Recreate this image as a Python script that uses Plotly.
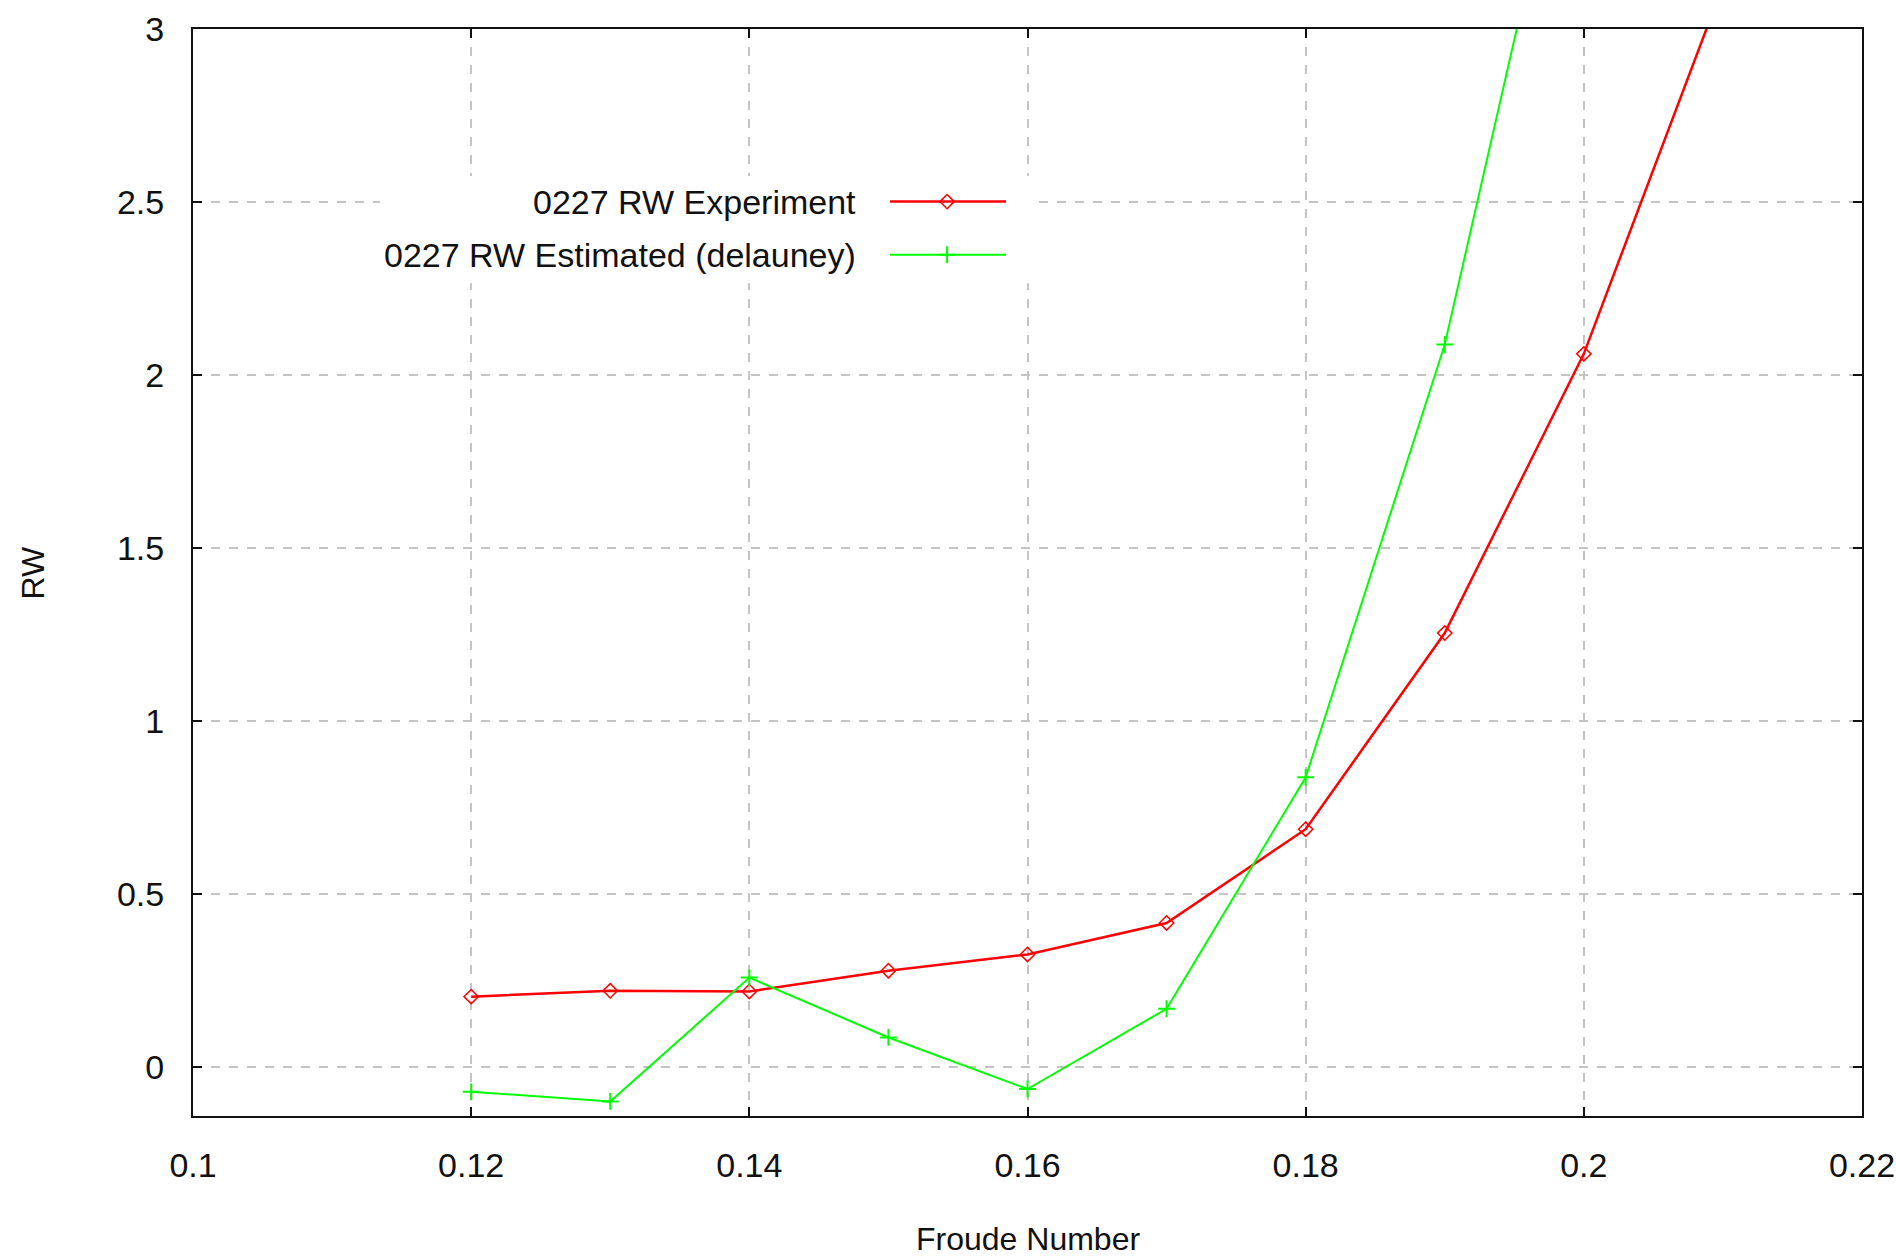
import plotly.graph_objects as go

# Froude number vs wave resistance
froude_exp = [0.12, 0.13, 0.14, 0.15, 0.16, 0.17, 0.18, 0.19, 0.20, 0.21]
rw_exp = [0.203, 0.220, 0.218, 0.278, 0.325, 0.416, 0.687, 1.254, 2.061, 3.126]

froude_est = [0.12, 0.13, 0.14, 0.15, 0.16, 0.17, 0.18, 0.19, 0.20]
rw_est = [-0.072, -0.100, 0.258, 0.085, -0.064, 0.168, 0.837, 2.088, 3.85]

series_names = ["0227 RW Experiment", "0227 RW Estimated (delauney)"]
series_colors = ["#ff0000", "#00ff00"]

X_RANGE = [0.1, 0.2200001]
Y_RANGE = [-0.142, 3.0]

FONT = "Liberation Sans, Arial, sans-serif"
GRID = "#c4c4c4"
INK = "#111111"


def fx(frac):
    # fraction of the plot width -> x value
    return X_RANGE[0] + frac * (X_RANGE[1] - X_RANGE[0])


def fy(frac):
    return Y_RANGE[0] + frac * (Y_RANGE[1] - Y_RANGE[0])


fig = go.Figure()

fig.add_trace(go.Scatter(
    x=froude_exp, y=rw_exp, mode="lines+markers", name=series_names[0],
    line=dict(color=series_colors[0], width=2.5),
    marker=dict(symbol="diamond-open", size=11, color=series_colors[0],
                line=dict(width=1.5, color=series_colors[0])),
    showlegend=False,
))
fig.add_trace(go.Scatter(
    x=froude_est, y=rw_est, mode="lines+markers", name=series_names[1],
    line=dict(color=series_colors[1], width=2),
    marker=dict(symbol="cross-thin", size=12,
                line=dict(width=2, color=series_colors[1])),
    showlegend=False,
))

# gnuplot style key: text on the left, sample on the right
key_rows = [0.8412, 0.7924]
key_line = [0.4176, 0.4871]
key_mark = 0.4518
key_symbols = [("diamond-open", 11, 1.5), ("cross-thin", 12, 2)]
for i, name in enumerate(series_names):
    fig.add_trace(go.Scatter(
        x=[fx(k) for k in key_line], y=[fy(key_rows[i])] * 2, mode="lines",
        line=dict(color=series_colors[i], width=2.5 if i == 0 else 2),
        showlegend=False, hoverinfo="skip",
    ))
    sym, sz, lw = key_symbols[i]
    fig.add_trace(go.Scatter(
        x=[fx(key_mark)], y=[fy(key_rows[i])], mode="markers",
        marker=dict(symbol=sym, size=sz, color=series_colors[i],
                    line=dict(width=lw, color=series_colors[i])),
        showlegend=False, hoverinfo="skip",
    ))
    fig.add_annotation(
        text=name, xref="x domain", yref="y domain", x=0.3984, y=key_rows[i],
        xanchor="right", yanchor="middle", showarrow=False,
        font=dict(family=FONT, size=34, color=INK),
    )

# opaque key box hides the grid behind it
fig.add_shape(type="rect", xref="x", yref="y",
              x0=fx(0.112), x1=fx(0.5015), y0=fy(0.7661), y1=fy(0.8647),
              fillcolor="white", line=dict(width=0), layer="between")

axis_common = dict(
    showline=True, linecolor=INK, linewidth=2, mirror="ticks",
    ticks="inside", ticklen=9, tickwidth=2, tickcolor=INK,
    showgrid=True, gridcolor=GRID, gridwidth=2, griddash="9px,9px",
    zeroline=False, automargin=False,
    tickfont=dict(family=FONT, size=34, color=INK),
)

fig.update_layout(
    width=1896, height=1260,
    margin=dict(l=193, r=34, t=29, b=144),
    plot_bgcolor="white", paper_bgcolor="white",
    xaxis=dict(range=X_RANGE, dtick=0.02, tick0=0.1,
               ticklabelstandoff=18, **axis_common),
    yaxis=dict(range=Y_RANGE, dtick=0.5, tick0=0,
               ticklabelstandoff=20, **axis_common),
)

# axis titles
fig.add_annotation(text="Froude Number", xref="paper", yref="paper",
                   x=0.5, y=-0.1132, xanchor="center", yanchor="middle",
                   showarrow=False, borderpad=0,
                   font=dict(family=FONT, size=32, color=INK))
fig.add_annotation(text="RW", xref="paper", yref="paper",
                   x=-0.0959, y=0.5, xanchor="center", yanchor="middle",
                   textangle=-90, showarrow=False,
                   font=dict(family=FONT, size=32, color=INK))

# drop the browser's default 8px body margin so the figure fills the window
fig.write_html("out.html",
               config={"displayModeBar": False},
               post_script="document.body.style.margin='0';"
                           "document.body.style.overflow='hidden';")
